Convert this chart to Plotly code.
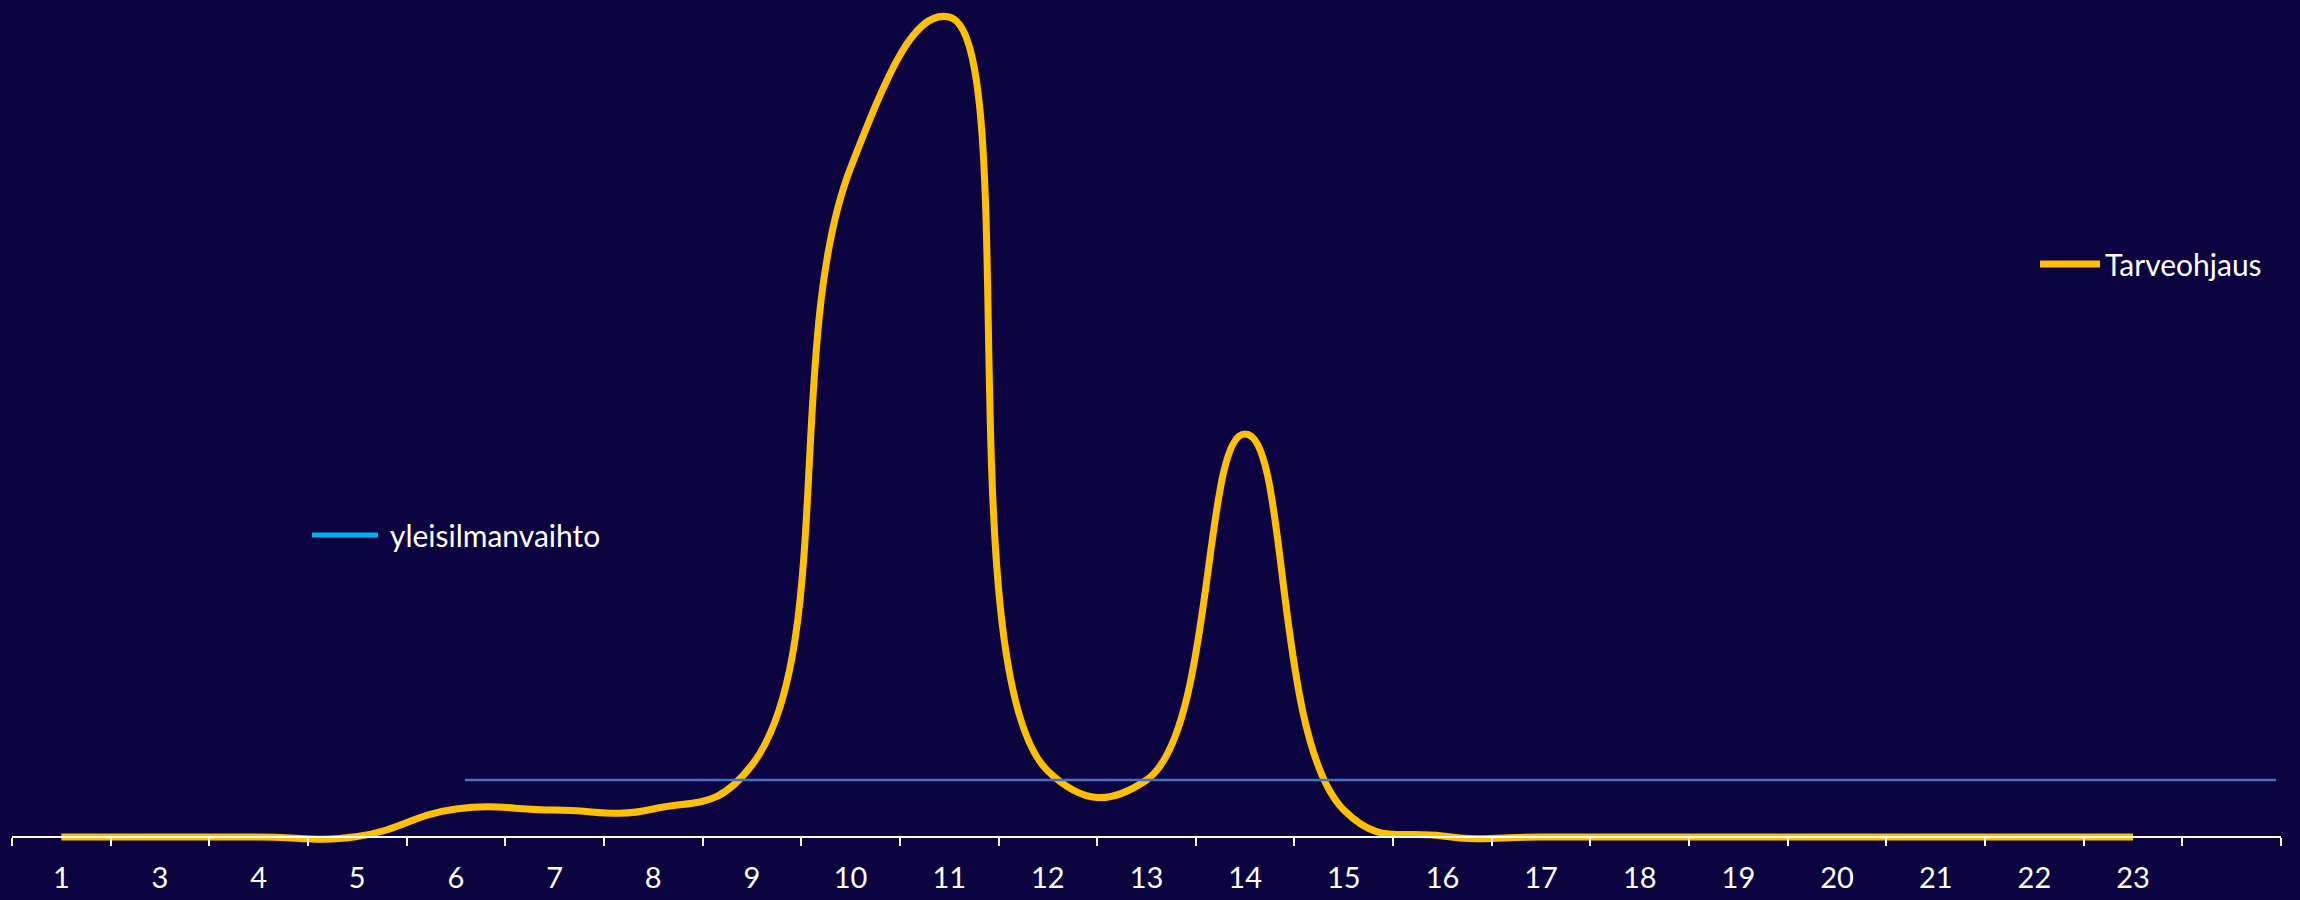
import plotly.graph_objects as go

# ---- data ----
categories = ["1", "3", "4", "5", "6", "7", "8", "9", "10", "11", "12",
              "13", "14", "15", "16", "17", "18", "19", "20", "21", "22", "23"]
tarveohjaus = [0, 0, 0, 0.5, 28, 27, 28, 72, 669, 820, 66,
               57, 403, 27, 1, 0, 0, 0, 0, 0, 0, 0]
n_slots = 23                      # category slots on the axis (last one empty)
yleis_x = [5.09, 23.45]           # extent of the general ventilation level (category units)
yleis_y = [57, 57]                # general ventilation level

# ---- styling ----
W, H = 2300, 900
BG = "#0c0440"
YELLOW = "#FFC000"
BLUE_LINE = "#4472C4"
BLUE_LEG = "#00B0F0"
FONT = "Lato, Carlito, Calibri, sans-serif"

plot_left, plot_right = 12, 2281     # px
axis_y_px = 837                      # px from top where value 0 sits
ymax = axis_y_px
ymin = -(H - axis_y_px)

xpos = list(range(1, len(categories) + 1))

fig = go.Figure()

fig.add_trace(go.Scatter(
    x=xpos, y=tarveohjaus, mode="lines", name="Tarveohjaus",
    line=dict(color=YELLOW, width=7, shape="spline", smoothing=1.3),
    legend="legend2", xaxis="x", yaxis="y",
))

fig.add_trace(go.Scatter(
    x=yleis_x, y=yleis_y, mode="lines", name="yleisilmanvaihto",
    line=dict(color=BLUE_LINE, width=2.7), showlegend=False,
    xaxis="x2", yaxis="y",
))

# legend entry for the level line (legend uses the lighter blue)
fig.add_trace(go.Scatter(
    x=[None], y=[None], mode="lines", name=" yleisilmanvaihto",
    line=dict(color=BLUE_LEG, width=5), legend="legend",
    xaxis="x2", yaxis="y",
))

dom = [plot_left / W, plot_right / W]
pos = (H - axis_y_px) / H
xr = [0.5, n_slots + 0.5]

fig.update_layout(
    width=W, height=H,
    margin=dict(l=0, r=0, t=0, b=0),
    paper_bgcolor=BG, plot_bgcolor=BG,
    font=dict(family=FONT, color="white", size=30),
    xaxis=dict(
        domain=dom, range=xr, anchor="free", position=pos,
        tickmode="array", tickvals=[i + 0.5 for i in range(0, n_slots + 1)],
        ticks="outside", ticklen=8, tickwidth=2, tickcolor="white",
        showticklabels=False, showline=True, linecolor="white", linewidth=2,
        showgrid=False, zeroline=False, automargin=False,
    ),
    xaxis2=dict(
        domain=dom, range=xr, anchor="free", position=pos, overlaying="x",
        tickmode="array", tickvals=xpos, ticktext=categories,
        ticks="outside", ticklen=15, tickcolor="rgba(0,0,0,0)",
        tickfont=dict(family=FONT, color="white", size=29),
        showline=False, showgrid=False, zeroline=False, automargin=False,
    ),
    yaxis=dict(domain=[0, 1], range=[ymin, ymax], visible=False,
               showgrid=False, zeroline=False, automargin=False),
    legend=dict(
        x=307 / W, y=1 - 535 / H, xanchor="left", yanchor="middle",
        bgcolor="rgba(0,0,0,0)", font=dict(family=FONT, color="white", size=30),
        itemwidth=66,
    ),
    legend2=dict(
        x=2035 / W, y=1 - 264 / H, xanchor="left", yanchor="middle",
        bgcolor="rgba(0,0,0,0)", font=dict(family=FONT, color="white", size=30),
        itemwidth=60,
    ),
    showlegend=True,
)

fig.write_html("out.html", config={"displayModeBar": False},
               post_script="document.body.style.margin='0';")
